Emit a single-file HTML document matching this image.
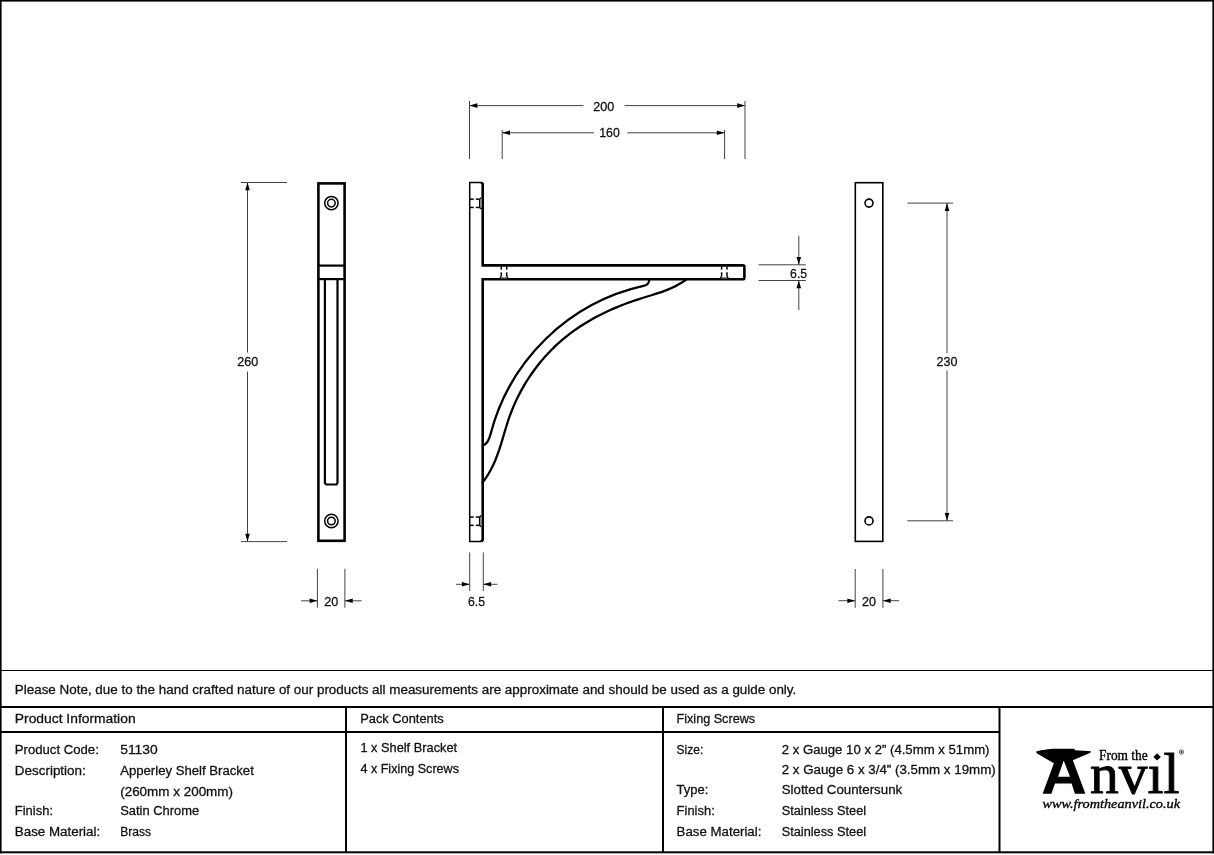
<!DOCTYPE html>
<html><head><meta charset="utf-8"><title>Apperley Shelf Bracket</title>
<style>
html,body{margin:0;padding:0;background:#fff;}
body{width:1214px;height:855px;overflow:hidden;}
svg{display:block;will-change:transform;}
.dl{stroke:#444;stroke-width:1;fill:none;}
.ah{fill:#000;}
.thk{stroke:#000;stroke-width:2.6;fill:none;}
.med{stroke:#000;stroke-width:2.2;fill:none;}
.thin{stroke:#000;stroke-width:1.3;fill:none;}
.pl{stroke:#000;stroke-width:1.5;fill:none;}
.arm{stroke:#000;stroke-width:2.6;fill:none;}
.circ{stroke:#000;stroke-width:1.5;fill:none;}
.hid{stroke:#000;stroke-width:1.5;fill:none;}
.thin2{stroke:#000;stroke-width:1.6;fill:none;}
.crv{stroke:#000;stroke-width:2.3;fill:none;stroke-linecap:round;}
.tb{stroke:#000;stroke-width:2;}
.t{font-family:"Liberation Sans",sans-serif;fill:#111;stroke:#111;stroke-width:0.3px;}
</style></head>
<body>
<svg width="1214" height="855" viewBox="0 0 1214 855">
<rect width="1214" height="855" fill="#fff"/>
<line class="tb" x1="0" y1="670.5" x2="1214" y2="670.5" style="stroke-width:1.2"/>
<line class="tb" x1="0" y1="707" x2="1214" y2="707"/>
<line class="tb" x1="0" y1="732" x2="999.5" y2="732"/>
<line class="tb" x1="346" y1="707" x2="346" y2="852"/>
<line class="tb" x1="663" y1="707" x2="663" y2="852"/>
<line class="tb" x1="999.5" y1="707" x2="999.5" y2="852"/>
<rect x="0" y="0" width="1214" height="1.6" fill="#000"/>
<rect x="0" y="0" width="1.6" height="853.3" fill="#000"/>
<rect x="1212.4" y="0" width="1.6" height="853.3" fill="#000"/>
<rect x="0" y="851.3" width="1214" height="2" fill="#000"/>
<line class="dl" x1="241" y1="182.5" x2="287" y2="182.5"/>
<line class="dl" x1="241" y1="541.6" x2="287" y2="541.6"/>
<line class="dl" x1="247.5" y1="182.5" x2="247.5" y2="352.5"/>
<line class="dl" x1="247.5" y1="371.5" x2="247.5" y2="541.6"/>
<path class="ah" d="M247.50,182.50 L245.20,190.30 L249.80,190.30 Z"/>
<path class="ah" d="M247.50,541.60 L245.20,533.80 L249.80,533.80 Z"/>
<line class="dl" x1="317.4" y1="568.8" x2="317.4" y2="607.7"/>
<line class="dl" x1="344.9" y1="568.8" x2="344.9" y2="607.7"/>
<line class="dl" x1="301" y1="600.8" x2="317.4" y2="600.8"/>
<line class="dl" x1="344.9" y1="600.8" x2="361.7" y2="600.8"/>
<path class="ah" d="M317.40,600.80 L309.60,598.50 L309.60,603.10 Z"/>
<path class="ah" d="M344.90,600.80 L352.70,598.50 L352.70,603.10 Z"/>
<line class="dl" x1="469.5" y1="101" x2="469.5" y2="159"/>
<line class="dl" x1="745" y1="101" x2="745" y2="159"/>
<line class="dl" x1="469.5" y1="105.6" x2="583.5" y2="105.6"/>
<line class="dl" x1="624.5" y1="105.6" x2="745" y2="105.6"/>
<path class="ah" d="M469.50,105.60 L477.30,103.30 L477.30,107.90 Z"/>
<path class="ah" d="M745.00,105.60 L737.20,103.30 L737.20,107.90 Z"/>
<line class="dl" x1="502.2" y1="130" x2="502.2" y2="159"/>
<line class="dl" x1="724.6" y1="130" x2="724.6" y2="159"/>
<line class="dl" x1="502.2" y1="132.8" x2="594" y2="132.8"/>
<line class="dl" x1="627.3" y1="132.8" x2="724.6" y2="132.8"/>
<path class="ah" d="M502.20,132.80 L510.00,130.50 L510.00,135.10 Z"/>
<path class="ah" d="M724.60,132.80 L716.80,130.50 L716.80,135.10 Z"/>
<line class="dl" x1="758.5" y1="264.8" x2="805.8" y2="264.8"/>
<line class="dl" x1="758.5" y1="280.5" x2="805.8" y2="280.5"/>
<line class="dl" x1="798.8" y1="235.8" x2="798.8" y2="264.8"/>
<line class="dl" x1="798.8" y1="280.5" x2="798.8" y2="310"/>
<path class="ah" d="M798.80,264.80 L796.50,257.00 L801.10,257.00 Z"/>
<path class="ah" d="M798.80,280.50 L796.50,288.30 L801.10,288.30 Z"/>
<line class="dl" x1="469.7" y1="552.4" x2="469.7" y2="591"/>
<line class="dl" x1="483.3" y1="552.4" x2="483.3" y2="591"/>
<line class="dl" x1="456" y1="584.3" x2="469.7" y2="584.3"/>
<line class="dl" x1="483.3" y1="584.3" x2="497.5" y2="584.3"/>
<path class="ah" d="M469.70,584.30 L461.90,582.00 L461.90,586.60 Z"/>
<path class="ah" d="M483.30,584.30 L491.10,582.00 L491.10,586.60 Z"/>
<line class="dl" x1="907.4" y1="203.1" x2="953" y2="203.1"/>
<line class="dl" x1="907.4" y1="520.8" x2="953" y2="520.8"/>
<line class="dl" x1="947" y1="203.1" x2="947" y2="353.2"/>
<line class="dl" x1="947" y1="370.4" x2="947" y2="520.8"/>
<path class="ah" d="M947.00,203.10 L944.70,210.90 L949.30,210.90 Z"/>
<path class="ah" d="M947.00,520.80 L944.70,513.00 L949.30,513.00 Z"/>
<line class="dl" x1="855.2" y1="569" x2="855.2" y2="607.8"/>
<line class="dl" x1="882.9" y1="569" x2="882.9" y2="607.8"/>
<line class="dl" x1="838.4" y1="600.7" x2="855.2" y2="600.7"/>
<line class="dl" x1="882.9" y1="600.7" x2="899.2" y2="600.7"/>
<path class="ah" d="M855.20,600.70 L847.40,598.40 L847.40,603.00 Z"/>
<path class="ah" d="M882.90,600.70 L890.70,598.40 L890.70,603.00 Z"/>
<rect class="thk" x="318.4" y="183.4" width="26.2" height="357.4"/>
<line class="med" x1="318.4" y1="265.6" x2="344.6" y2="265.6"/>
<line class="med" x1="318.4" y1="279.1" x2="344.6" y2="279.1"/>
<path class="med" d="M324.9,279.1 L324.9,483 L326,484.5 L336.4,484.5 L337.5,483 L337.5,279.1"/>
<circle class="circ" cx="331.4" cy="203.1" r="6.7"/><circle class="circ" cx="331.4" cy="203.1" r="3.8"/>
<circle class="circ" cx="331.4" cy="521" r="6.7"/><circle class="circ" cx="331.4" cy="521" r="3.8"/>
<line class="pl" x1="469.7" y1="182.5" x2="469.7" y2="541.4"/>
<path class="pl" d="M469.0,182.5 L481.4,182.5 M469.0,541.4 L481.4,541.4"/>
<path class="arm" d="M481.2,182.4 L482.7,183.9 L482.7,265.4 L742.9,265.4 Q744.4,265.4 744.4,266.9 L744.4,277.8 Q744.4,279.3 742.9,279.3 L482.7,279.3 L482.7,539.9 L481.2,541.5"/>
<line class="hid" x1="469.8" y1="199.15" x2="473.7" y2="199.15"/>
<line class="hid" x1="475.8" y1="199.15" x2="479.6" y2="199.15"/>
<line class="hid" x1="469.8" y1="207.45000000000002" x2="473.7" y2="207.45000000000002"/>
<line class="hid" x1="475.8" y1="207.45000000000002" x2="479.6" y2="207.45000000000002"/>
<path class="hid" d="M479.6,199.15 L481.4,197.75 M479.6,207.45 L481.4,208.85 M479.7,199.15 L479.7,207.45"/>
<path fill="#888" d="M480.3,199.45 L481.6,198.35 L481.6,208.25 L480.3,207.15 Z"/>
<line class="hid" x1="469.8" y1="517.0500000000001" x2="473.7" y2="517.0500000000001"/>
<line class="hid" x1="475.8" y1="517.0500000000001" x2="479.6" y2="517.0500000000001"/>
<line class="hid" x1="469.8" y1="525.35" x2="473.7" y2="525.35"/>
<line class="hid" x1="475.8" y1="525.35" x2="479.6" y2="525.35"/>
<path class="hid" d="M479.6,517.05 L481.4,515.65 M479.6,525.35 L481.4,526.75 M479.7,517.05 L479.7,525.35"/>
<path fill="#888" d="M480.3,517.35 L481.6,516.25 L481.6,526.15 L480.3,525.05 Z"/>
<line class="hid" x1="501.3" y1="266.5" x2="501.3" y2="269.6"/>
<line class="hid" x1="501.3" y1="272.3" x2="501.3" y2="276.4"/>
<line class="hid" x1="506.7" y1="266.5" x2="506.7" y2="269.6"/>
<line class="hid" x1="506.7" y1="272.3" x2="506.7" y2="276.4"/>
<path class="hid" d="M501.30,276.4 L500.10,278.3 M506.70,276.4 L507.90,278.3"/>
<path fill="#888" d="M501.70,276.9 L506.30,276.9 L507.30,278.4 L500.70,278.4 Z"/>
<line class="hid" x1="721.5999999999999" y1="266.5" x2="721.5999999999999" y2="269.6"/>
<line class="hid" x1="721.5999999999999" y1="272.3" x2="721.5999999999999" y2="276.4"/>
<line class="hid" x1="727.0" y1="266.5" x2="727.0" y2="269.6"/>
<line class="hid" x1="727.0" y1="272.3" x2="727.0" y2="276.4"/>
<path class="hid" d="M721.60,276.4 L720.40,278.3 M727.00,276.4 L728.20,278.3"/>
<path fill="#888" d="M722.00,276.9 L726.60,276.9 L727.60,278.4 L721.00,278.4 Z"/>
<path class="crv" d="M482.8,445.8 Q488.1,443.7 490.3,435 A204.4,204.4 0 0 1 644.5,285.7 Q648.9,284.7 649.4,279.5"/>
<path class="crv" d="M482.61,482.30 L484.73,479.52 L486.71,476.67 L488.54,473.76 L490.25,470.81 L491.83,467.81 L493.31,464.76 L494.69,461.68 L495.98,458.56 L497.19,455.40 L498.34,452.22 L499.43,449.02 L500.47,445.79 L501.48,442.55 L502.47,439.30 L503.44,436.03 L504.41,432.77 L505.39,429.50 L506.38,426.23 L507.41,422.97 L508.47,419.72 L509.59,416.48 L510.77,413.27 L512.01,410.07 L513.31,406.89 L514.68,403.74 L516.11,400.61 L517.59,397.51 L519.14,394.43 L520.75,391.38 L522.42,388.37 L524.14,385.38 L525.92,382.43 L527.76,379.50 L529.65,376.62 L531.59,373.77 L533.59,370.96 L535.63,368.18 L537.73,365.45 L539.88,362.76 L542.08,360.11 L544.33,357.51 L546.62,354.95 L548.97,352.44 L551.35,349.97 L553.79,347.56 L556.26,345.20 L558.78,342.89 L561.35,340.63 L563.95,338.43 L566.59,336.28 L569.28,334.19 L572.00,332.14 L574.76,330.15 L577.55,328.21 L580.38,326.33 L583.24,324.49 L586.13,322.70 L589.06,320.95 L592.01,319.26 L595.00,317.61 L598.01,316.01 L601.04,314.45 L604.11,312.94 L607.19,311.47 L610.30,310.05 L613.44,308.67 L616.59,307.32 L619.76,306.02 L622.95,304.76 L626.16,303.54 L629.38,302.36 L632.62,301.22 L635.87,300.11 L639.13,299.04 L642.41,298.01 L645.69,297.00 L648.97,296.00 L652.25,295.00 L655.51,293.97 L658.76,292.92 L661.99,291.82 L665.18,290.65 L668.34,289.41 L671.46,288.07 L674.53,286.63 L677.54,285.07 L680.50,283.37 L683.39,281.52 L686.20,279.51"/>
<rect class="thin2" x="855.3" y="182.7" width="27.5" height="358.7"/>
<circle class="thin2" cx="869" cy="203.1" r="4"/><circle class="thin2" cx="869" cy="520.9" r="4"/>
<text class="t" x="247.7" y="366" text-anchor="middle" style="font-size:13.66px" textLength="21" lengthAdjust="spacingAndGlyphs">260</text>
<text class="t" x="331.3" y="606.1" text-anchor="middle" style="font-size:13.66px" textLength="14" lengthAdjust="spacingAndGlyphs">20</text>
<text class="t" x="603.7" y="111.1" text-anchor="middle" style="font-size:13.66px" textLength="21" lengthAdjust="spacingAndGlyphs">200</text>
<text class="t" x="609.5" y="137.1" text-anchor="middle" style="font-size:13.66px" textLength="20.5" lengthAdjust="spacingAndGlyphs">160</text>
<text class="t" x="798.6" y="277.9" text-anchor="middle" style="font-size:13.66px" textLength="17" lengthAdjust="spacingAndGlyphs">6.5</text>
<text class="t" x="476.5" y="606.3" text-anchor="middle" style="font-size:13.66px" textLength="17" lengthAdjust="spacingAndGlyphs">6.5</text>
<text class="t" x="947" y="366" text-anchor="middle" style="font-size:13.66px" textLength="21" lengthAdjust="spacingAndGlyphs">230</text>
<text class="t" x="869" y="605.8" text-anchor="middle" style="font-size:13.66px" textLength="14" lengthAdjust="spacingAndGlyphs">20</text>
<text class="t" x="14.8" y="693.9" style="font-size:13.66px" textLength="781.5" lengthAdjust="spacingAndGlyphs">Please Note, due to the hand crafted nature of our products all measurements are approximate and should be used as a guide only.</text>
<text class="t" x="14.8" y="723" style="font-size:13.66px" textLength="120.8" lengthAdjust="spacingAndGlyphs">Product Information</text>
<text class="t" x="360.2" y="722.7" style="font-size:13.66px" textLength="83.5" lengthAdjust="spacingAndGlyphs">Pack Contents</text>
<text class="t" x="676.5" y="722.7" style="font-size:13.66px" textLength="78.6" lengthAdjust="spacingAndGlyphs">Fixing Screws</text>
<text class="t" x="14.8" y="753.7" style="font-size:13.66px" textLength="84" lengthAdjust="spacingAndGlyphs">Product Code:</text>
<text class="t" x="120.2" y="753.7" style="font-size:13.66px" textLength="37.5" lengthAdjust="spacingAndGlyphs">51130</text>
<text class="t" x="14.8" y="774.6" style="font-size:13.66px" textLength="71" lengthAdjust="spacingAndGlyphs">Description:</text>
<text class="t" x="120.2" y="774.6" style="font-size:13.66px" textLength="133.6" lengthAdjust="spacingAndGlyphs">Apperley Shelf Bracket</text>
<text class="t" x="120.2" y="795.6" style="font-size:13.66px" textLength="112.8" lengthAdjust="spacingAndGlyphs">(260mm x 200mm)</text>
<text class="t" x="14.8" y="815.3" style="font-size:13.66px" textLength="38.2" lengthAdjust="spacingAndGlyphs">Finish:</text>
<text class="t" x="120.2" y="815.3" style="font-size:13.66px" textLength="79" lengthAdjust="spacingAndGlyphs">Satin Chrome</text>
<text class="t" x="14.8" y="835.7" style="font-size:13.66px" textLength="85.4" lengthAdjust="spacingAndGlyphs">Base Material:</text>
<text class="t" x="120.2" y="835.7" style="font-size:13.66px" textLength="30.8" lengthAdjust="spacingAndGlyphs">Brass</text>
<text class="t" x="360.4" y="752.4" style="font-size:13.66px" textLength="96.7" lengthAdjust="spacingAndGlyphs">1 x Shelf Bracket</text>
<text class="t" x="360.4" y="772.7" style="font-size:13.66px" textLength="98.6" lengthAdjust="spacingAndGlyphs">4 x Fixing Screws</text>
<text class="t" x="676.6" y="753.7" style="font-size:13.66px" textLength="26.7" lengthAdjust="spacingAndGlyphs">Size:</text>
<text class="t" x="781.7" y="753.7" style="font-size:13.66px" textLength="207.8" lengthAdjust="spacingAndGlyphs">2 x Gauge 10 x 2” (4.5mm x 51mm)</text>
<text class="t" x="781.7" y="773.5" style="font-size:13.66px" textLength="214" lengthAdjust="spacingAndGlyphs">2 x Gauge 6 x 3/4” (3.5mm x 19mm)</text>
<text class="t" x="676.6" y="794.4" style="font-size:13.66px" textLength="31.8" lengthAdjust="spacingAndGlyphs">Type:</text>
<text class="t" x="781.7" y="794.4" style="font-size:13.66px" textLength="120.5" lengthAdjust="spacingAndGlyphs">Slotted Countersunk</text>
<text class="t" x="676.6" y="815.4" style="font-size:13.66px" textLength="38.2" lengthAdjust="spacingAndGlyphs">Finish:</text>
<text class="t" x="781.7" y="815.4" style="font-size:13.66px" textLength="84.4" lengthAdjust="spacingAndGlyphs">Stainless Steel</text>
<text class="t" x="676.6" y="835.6" style="font-size:13.66px" textLength="84.8" lengthAdjust="spacingAndGlyphs">Base Material:</text>
<text class="t" x="781.7" y="835.6" style="font-size:13.66px" textLength="84.4" lengthAdjust="spacingAndGlyphs">Stainless Steel</text>

<path fill="#000" fill-rule="evenodd" d="M1036,751.8 C1040,750 1050,749 1054.6,748.8 L1074.2,748.8 L1075,750.2 L1091,751.2 L1090.5,752.8 L1072.8,760.2 L1085.4,793.7 L1074.9,793.7 L1071.6,783.5 L1055,783.5 L1051.4,793.7 L1042.6,793.7 L1053.9,763.2 L1037,753.5 Z M1063.7,760.5 L1058.1,776.8 L1070,776.8 Z"/>
<text x="1099" y="759.8" style="font-family:'Liberation Serif',serif;font-size:14.3px;stroke:#000;stroke-width:0.35px" textLength="48.7" lengthAdjust="spacingAndGlyphs">From the</text>
<text x="1090" y="792.5" style="font-family:'Liberation Serif',serif;font-size:58px;stroke:#000;stroke-width:0.9px" textLength="89.5" lengthAdjust="spacingAndGlyphs">nvıl</text>
<path fill="#000" d="M1157.1,753.2 L1160.8,756.9 L1157.1,760.6 L1153.4,756.9 Z"/>
<circle cx="1181.4" cy="752" r="2.2" fill="none" stroke="#000" stroke-width="0.6"/>
<circle cx="1181.4" cy="752" r="0.9" fill="#000"/>
<text x="1042.5" y="807.8" style="font-family:'Liberation Serif',serif;font-style:italic;font-size:13px;stroke:#000;stroke-width:0.3px" textLength="137.5" lengthAdjust="spacingAndGlyphs">www.fromtheanvil.co.uk</text>

</svg>
</body></html>
